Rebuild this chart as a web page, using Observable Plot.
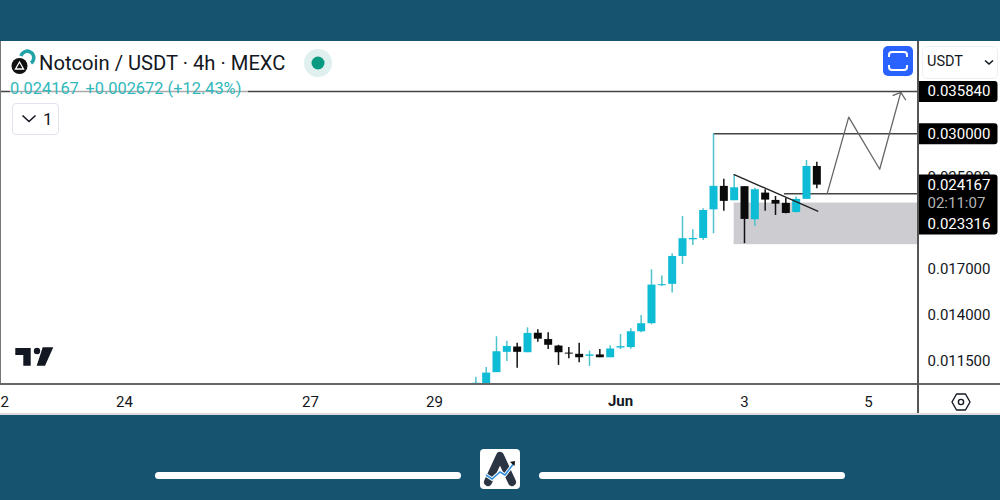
<!DOCTYPE html>
<html><head><meta charset="utf-8">
<script src="https://cdn.jsdelivr.net/npm/d3@7"></script>
<script src="https://cdn.jsdelivr.net/npm/@observablehq/plot@0.6"></script>
<style>
html,body{margin:0;padding:0;width:1000px;height:500px;overflow:hidden;background:#15536f;font-family:Roboto,sans-serif}
.a{position:absolute}
svg.a{overflow:visible}
#chart svg{position:absolute;left:0;top:0;z-index:1;background:transparent}
.ov{z-index:2}
</style></head><body>
<div class="a" style="left:0;top:41px;width:1000px;height:374px;background:#fff"></div>
<div class="a" style="left:0;top:413px;width:1000px;height:2px;background:#dcdcdc"></div>
<div id="chart"></div>
<div class="a ov" style="left:0;top:41px;width:1px;height:343px;background:#777"></div>
<div class="a ov" style="left:0;top:383px;width:1000px;height:1.5px;background:#666"></div>
<div class="a ov" style="left:917px;top:41px;width:1.5px;height:372px;background:#555"></div>

<svg class="a ov" style="left:8px;top:46px" width="30" height="32" viewBox="8 46 30 32">
<path d="M21 56 A6.5 6.5 0 1 1 31 63" fill="none" stroke="#1fa3a8" stroke-width="3.5"/>
<circle cx="19.5" cy="66" r="8" fill="#111"/>
<path d="M15.5 69 L19.5 62 L23.5 69 Z" fill="none" stroke="#fff" stroke-width="1.3"/>
</svg>
<div class="a ov" id="title" style="left:39px;top:50px;font-size:20.2px;line-height:26px;color:#131722;white-space:nowrap">Notcoin / USDT · 4h · MEXC</div>
<svg class="a ov" style="left:304px;top:49px" width="28" height="28"><circle cx="14" cy="14" r="14" fill="#dff0ee"/><circle cx="14" cy="14" r="6.5" fill="#089981"/></svg>
<div class="a ov" id="legend" style="left:10px;top:80px;height:18px;padding-right:7px;font-size:16.4px;line-height:18px;color:#2fb8bb;background:rgba(255,255,255,.55);white-space:nowrap">0.024167 <span style="margin-left:2.5px">+0.002672 (+12.43%)</span></div>
<div class="a ov" style="left:12px;top:103px;width:45px;height:30px;border:1px solid #e0e3eb;border-radius:4px;background:#fff;box-sizing:content-box">
<svg class="a" style="left:8px;top:10px" width="16" height="10"><path d="M1.5 1.5 L8 7.5 L14.5 1.5" fill="none" stroke="#131722" stroke-width="1.6"/></svg>
<span class="a" style="left:30px;top:4px;font-size:17px;line-height:22px;color:#131722">1</span></div>
<svg class="a ov" style="left:883px;top:46px" width="30" height="30"><rect width="30" height="30" rx="5" fill="#2962ff"/><path d="M6 11 V9 Q6 6 9 6 H21 Q24 6 24 9 V11 M6 19 V21 Q6 24 9 24 H21 Q24 24 24 21 V19" fill="none" stroke="#fff" stroke-width="2"/></svg>
<div class="a ov" style="left:922px;top:46px;width:74px;height:31px;border:1px solid #eeeff3;border-radius:5px;background:#fff"><span class="a" style="left:4px;top:6px;font-size:14.5px;line-height:18px;color:#131722">USDT</span>
<svg class="a" style="left:61px;top:12px" width="10" height="7"><path d="M1 1.5 L5 5 L9 1.5" fill="none" stroke="#131722" stroke-width="1.6"/></svg></div>
<svg class="a ov" style="left:15px;top:347px" width="40" height="20" viewBox="15 347 40 20"><path d="M15.3 348 H30.7 V365.7 H23.3 V355 H15.3 Z M42.7 347.3 H53.3 L45 365.7 H36.7 Z" fill="#131722"/><circle cx="37" cy="351" r="3.2" fill="#131722"/></svg>
<svg class="a ov" style="left:950px;top:391px" width="22" height="22"><path d="M6.5 3 H15.5 L20 11 L15.5 19 H6.5 L2 11 Z" fill="none" stroke="#131722" stroke-width="1.4" stroke-linejoin="round"/><circle cx="11" cy="11" r="2.6" fill="none" stroke="#131722" stroke-width="1.4"/></svg>

<div class="a ov" style="left:155px;top:472px;width:306px;height:7px;border-radius:4px;background:#fff"></div>
<div class="a ov" style="left:539px;top:472px;width:306px;height:7px;border-radius:4px;background:#fff"></div>
<svg class="a ov" style="left:480px;top:449px" width="40" height="40" viewBox="0 0 40 40"><rect width="40" height="40" rx="4" fill="#fff"/>
<path d="M8 33 L20 7 L32 33" fill="none" stroke="#2b3442" stroke-width="8" stroke-linecap="round" stroke-linejoin="round"/>
<path d="M6 26 L12 30 L20 23 L25 26 L34 14" fill="none" stroke="#fff" stroke-width="3.5"/>
<path d="M6 26 L12 30 L20 23 L25 26 L34 14" fill="none" stroke="#2f8fe0" stroke-width="1.6"/>
<path d="M30 13 L35 12 L34.5 17 Z" fill="#111"/></svg>

<script>
// 4h candles, counted from the first visible bar
const firstCandle = new Date(Date.UTC(2024, 4, 29, 16));
const opens  = [0.0104,0.01048,0.01098,0.01196,0.01223,0.01194,0.01296,0.01262,0.01228,0.01192,0.01186,0.01176,0.01183,0.01169,0.01218,0.01220,0.01304,0.01349,0.01583,0.01592,0.01790,0.01920,0.01931,0.02178,0.02404,0.02263,0.02401,0.02089,0.02337,0.02266,0.02238,0.02154,0.02276,0.02614];
const highs  = [0.01077,0.01122,0.01277,0.01253,0.01243,0.01326,0.01315,0.01298,0.01232,0.01220,0.01243,0.01202,0.01210,0.01230,0.01289,0.01321,0.01397,0.01692,0.01648,0.01811,0.02118,0.02003,0.02187,0.03000,0.02478,0.02525,0.02401,0.02386,0.02370,0.02304,0.02285,0.02298,0.02681,0.02662];
const lows   = [0.0104,0.01048,0.01098,0.01151,0.01119,0.01194,0.01248,0.01210,0.01132,0.01164,0.01145,0.01127,0.01169,0.01169,0.01210,0.01211,0.01299,0.01343,0.01578,0.01535,0.01731,0.01875,0.01915,0.01970,0.02166,0.02263,0.01889,0.02031,0.02166,0.02127,0.02142,0.02147,0.02276,0.02380];
const closes = [0.0105,0.01096,0.01199,0.01226,0.01196,0.01295,0.01264,0.01232,0.01194,0.01187,0.01169,0.01183,0.01169,0.01213,0.01225,0.01304,0.01349,0.01587,0.01590,0.01790,0.01929,0.01931,0.02172,0.02404,0.02257,0.02390,0.02092,0.02370,0.02269,0.02231,0.02145,0.02276,0.02614,0.024167];

const lastPrice = 0.024167, target = 0.03584, resistance = 0.03, support = 0.023316;
const zoneTop = 0.02241, zoneBottom = 0.01881;
const zoneStart = new Date(Date.UTC(2024, 5, 2, 20));
const resistanceStart = new Date(Date.UTC(2024, 5, 2, 12));
const supportStart = new Date(Date.UTC(2024, 5, 3, 15, 30));
const trendTimes = [new Date(Date.UTC(2024,5,2,20)), new Date(Date.UTC(2024,5,4,4,20))];
const trendValues = [0.02525, 0.02166];
const pathTimes = [new Date(Date.UTC(2024,5,4,8,0)), new Date(Date.UTC(2024,5,4,16,20)), new Date(Date.UTC(2024,5,5,4,20)), new Date(Date.UTC(2024,5,5,12,30))];
const pathValues = [0.023316, 0.03217, 0.02584, 0.0357];
const headTimes = [new Date(Date.UTC(2024,5,5,9,33)), new Date(Date.UTC(2024,5,5,12,30)), new Date(Date.UTC(2024,5,5,14,20))];
const headValues = [0.03524, 0.0357, 0.03461];

const xStart = new Date(Date.UTC(2024, 4, 22));
const xEnd = new Date(Date.UTC(2024, 5, 5, 18, 58));
const yBottom = 0.01049, yTop = 0.04422;

const dayTicks = [new Date(Date.UTC(2024,4,22)), new Date(Date.UTC(2024,4,24)), new Date(Date.UTC(2024,4,27)), new Date(Date.UTC(2024,4,29)), new Date(Date.UTC(2024,5,3)), new Date(Date.UTC(2024,5,5))];
const monthTick = new Date(Date.UTC(2024,5,1));
const priceTicks = [0.0115, 0.014, 0.017, 0.025];

const candles = opens.map((o,i)=>({t:d3.utcHour.offset(firstCandle,4*i),o,h:highs[i],l:lows[i],c:closes[i],up:closes[i]>=o}));
const box = (top,bottom)=>({draw(c){const r=3,w=80;c.moveTo(0,top);c.lineTo(w-r,top);c.arcTo(w,top,w,top+r,r);c.lineTo(w,bottom-r);c.arcTo(w,bottom,w-r,bottom,r);c.lineTo(0,bottom);c.closePath();}});
const labelFont = {fontSize:15, fontFamily:"Roboto", frameAnchor:"right", textAnchor:"start", dx:10};

const plot = Plot.plot({
  width:1000, height:500, marginTop:41, marginBottom:117, marginLeft:0, marginRight:83,
  style:{background:"transparent",fontFamily:"Roboto",overflow:"visible"},
  x:{type:"utc",domain:[xStart,xEnd],label:null},
  y:{type:"log",domain:[yBottom,yTop],label:null},
  marks:[
    Plot.rect([0],{x1:()=>zoneStart,x2:()=>xEnd,y1:()=>zoneBottom,y2:()=>zoneTop,fill:"#cdcdd1",inset:0}),
    Plot.ruleY([target],{stroke:"#444",strokeWidth:1.5}),
    Plot.ruleY([resistance],{x1:()=>resistanceStart,x2:()=>xEnd,stroke:"#444",strokeWidth:1.5}),
    Plot.ruleY([support],{x1:()=>supportStart,x2:()=>xEnd,stroke:"#444",strokeWidth:1.5}),
    Plot.ruleX(candles,{x:"t",y1:"l",y2:"h",stroke:d=>d.up?"#4fc3cb":"#111",strokeWidth:1.5,clip:true}),
    Plot.ruleX(candles,{x:"t",y1:"o",y2:"c",stroke:d=>d.up?"#0fbcd6":"#0a0a0a",strokeWidth:8,clip:true}),
    Plot.line(trendTimes.map((t,i)=>({t,v:trendValues[i]})),{x:"t",y:"v",stroke:"#222",strokeWidth:1.4}),
    Plot.line(pathTimes.map((t,i)=>({t,v:pathValues[i]})),{x:"t",y:"v",stroke:"#666",strokeWidth:1.3}),
    Plot.line(headTimes.map((t,i)=>({t,v:headValues[i]})),{x:"t",y:"v",stroke:"#666",strokeWidth:1.3}),
    Plot.axisY({anchor:"right",ticks:priceTicks,tickSize:0,tickPadding:10,tickFormat:d3.format(".6f"),fontSize:15,fill:"#131722",label:null}),
    Plot.axisX({anchor:"bottom",ticks:dayTicks,tickSize:0,tickPadding:13,tickFormat:d3.utcFormat("%-d"),fontSize:15,fill:"#131722",label:null}),
    Plot.text([monthTick],{x:d=>d,frameAnchor:"bottom",dy:18,lineAnchor:"middle",text:()=>"Jun",fontSize:15,fontWeight:700,fill:"#131722"}),
    Plot.dot([target],{y:d=>d,frameAnchor:"right",fill:"#000",symbol:box(-10.5,10.5)}),
    Plot.dot([resistance],{y:d=>d,frameAnchor:"right",fill:"#000",symbol:box(-10.5,10.5)}),
    Plot.dot([lastPrice],{y:d=>d,frameAnchor:"right",fill:"#000",symbol:box(-10.5,49.5)}),
    Plot.text([target],{y:d=>d,text:d=>d3.format(".6f")(d),fill:"#fff",...labelFont}),
    Plot.text([resistance],{y:d=>d,text:d=>d3.format(".6f")(d),fill:"#fff",...labelFont}),
    Plot.text([lastPrice],{y:d=>d,text:d=>d3.format(".6f")(d),fill:"#fff",...labelFont}),
    Plot.text([lastPrice],{y:d=>d,dy:18.5,text:()=>"02:11:07",fill:"#b5b5b5",...labelFont}),
    Plot.text([support],{y:d=>d,dy:31,text:d=>d3.format(".6f")(d),fill:"#fff",...labelFont})
  ]
});
document.getElementById("chart").appendChild(plot);
</script>
</body></html>
